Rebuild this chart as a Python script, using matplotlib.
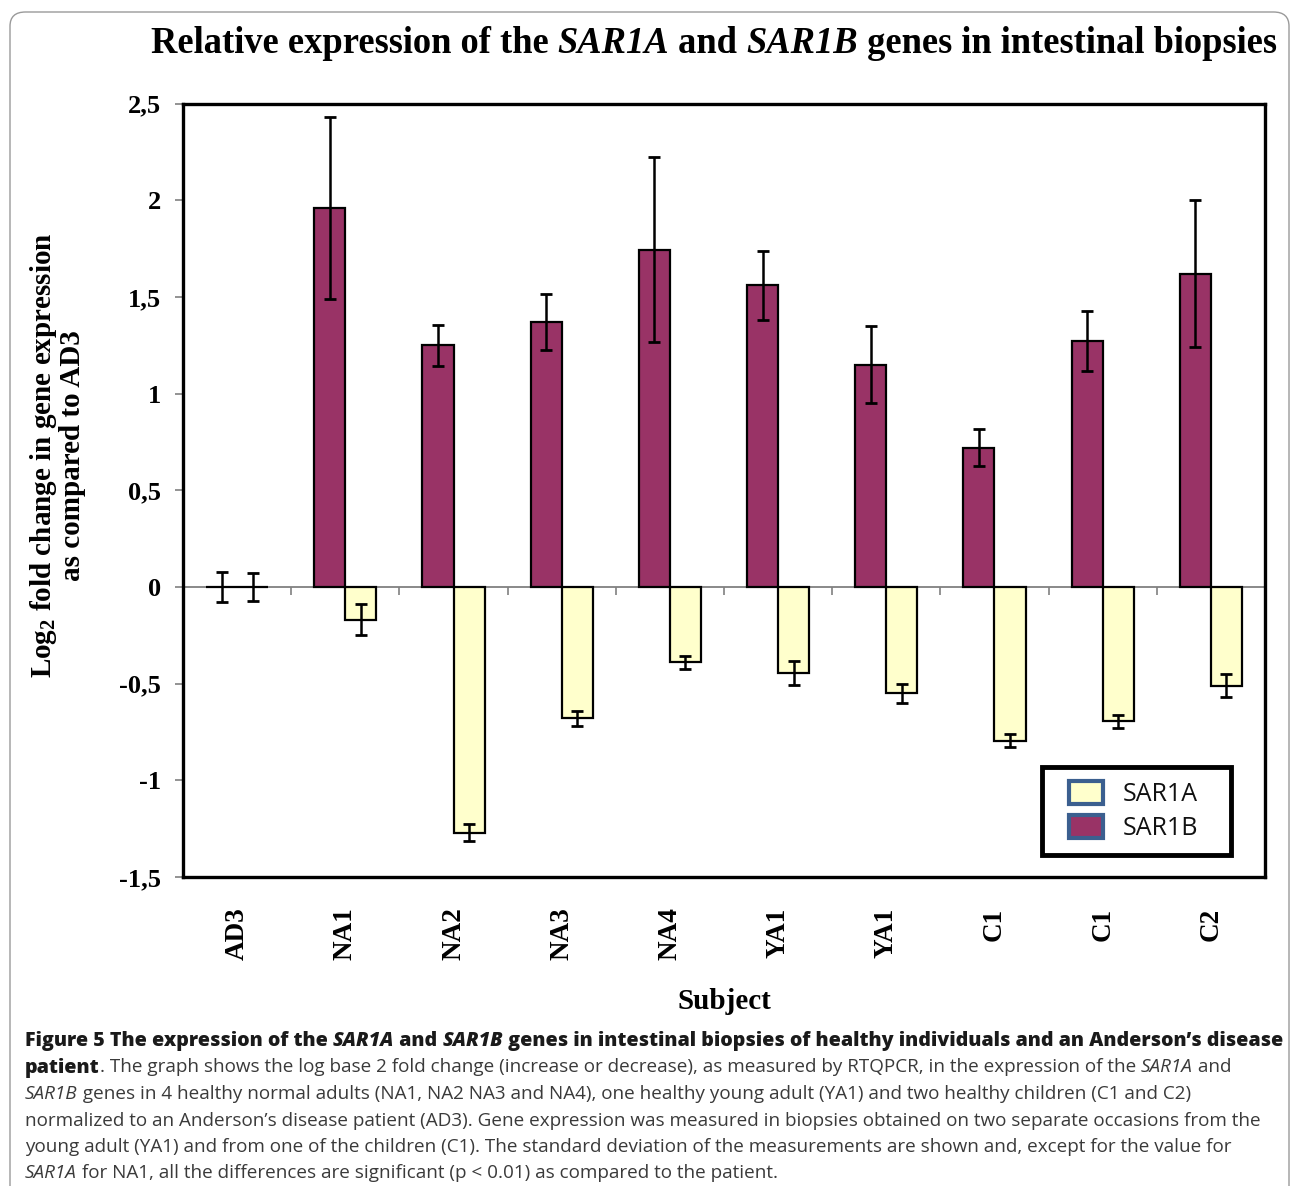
import numpy as np
import matplotlib
matplotlib.use("Agg")
import matplotlib.pyplot as plt
from matplotlib.patches import Patch, FancyBboxPatch, Rectangle

# data
subjects = ["AD3", "NA1", "NA2", "NA3", "NA4", "YA1", "YA1", "C1", "C1", "C2"]
sar1b = [0.0, 1.96, 1.25, 1.37, 1.745, 1.56, 1.15, 0.72, 1.27, 1.62]
sar1b_err = [0.08, 0.47, 0.105, 0.145, 0.48, 0.18, 0.20, 0.095, 0.155, 0.38]
sar1a = [0.0, -0.17, -1.27, -0.68, -0.39, -0.445, -0.55, -0.795, -0.695, -0.51]
sar1a_err = [0.07, 0.08, 0.045, 0.04, 0.035, 0.06, 0.05, 0.035, 0.035, 0.06]

yticks = [-1.5, -1, -0.5, 0, 0.5, 1, 1.5, 2, 2.5]
ytick_labels = ["-1,5", "-1", "-0,5", "0", "0,5", "1", "1,5", "2", "2,5"]

PURPLE = "#993366"
YELLOW = "#FFFFCC"
SERIF = "Liberation Serif"
SANS = "Open Sans"

plt.rcParams["mathtext.fontset"] = "custom"
plt.rcParams["mathtext.rm"] = "Liberation Serif:bold"
plt.rcParams["mathtext.bf"] = "Liberation Serif:bold"

fig = plt.figure(figsize=(12.9, 11.86), dpi=100)
ax = fig.add_axes([0.1419, 0.2605, 0.9806 - 0.1419, 0.9127 - 0.2605])

x = np.arange(len(subjects))
w = 0.287
ax.bar(x - w / 2, sar1b, w, color=PURPLE, edgecolor="black", linewidth=1.6, zorder=3)
ax.bar(x + w / 2, sar1a, w, color=YELLOW, edgecolor="black", linewidth=1.6, zorder=3)
ax.errorbar(x - w / 2, sar1b, yerr=sar1b_err, fmt="none", ecolor="black",
            elinewidth=1.8, capsize=4.5, capthick=2, zorder=4)
ax.errorbar(x + w / 2, sar1a, yerr=sar1a_err, fmt="none", ecolor="black",
            elinewidth=1.8, capsize=4.5, capthick=2, zorder=4)

ax.set_xlim(-0.5, len(subjects) - 0.5)
ax.set_ylim(-1.5, 2.5)

# zero line with group separators
ax.axhline(0, color="#808080", linewidth=1.3, zorder=2)
zero_axis = ax.secondary_xaxis(1.5 / 4.0)
zero_axis.set_xticks(np.arange(0.5, len(subjects) - 0.5, 1.0))
zero_axis.set_xticklabels([])
zero_axis.tick_params(axis="x", direction="out", length=6, width=1.2, color="#808080")
zero_axis.spines["bottom"].set_visible(False)
zero_axis.spines["top"].set_visible(False)

for s in ax.spines.values():
    s.set_linewidth(2.4)
    s.set_color("black")

ax.set_yticks(yticks)
ax.set_yticklabels(ytick_labels, fontfamily=SERIF, fontweight="bold", fontsize=19)
ax.tick_params(axis="y", direction="out", length=6, width=1.2, color="#808080", pad=10)
ax.set_xticks(x)
ax.set_xticklabels(subjects, rotation=90, fontfamily=SERIF, fontweight="bold", fontsize=19.5)
ax.tick_params(axis="x", length=0, pad=22)

ax.set_xlabel("Subject", fontfamily=SERIF, fontweight="bold", fontsize=21, labelpad=20)
ax.set_ylabel("Log$_\\mathbf{2}$ fold change in gene expression\nas compared to AD3",
              fontfamily=SERIF, fontweight="bold", fontsize=21, linespacing=1.0)
ax.yaxis.set_label_coords(-0.09, 0.545)

# legend: entries centred in a hand-drawn black box
box = Rectangle((0.7939, 0.0284), 0.9686 - 0.7939, 0.1422 - 0.0284, transform=ax.transAxes,
                facecolor="white", edgecolor="black", linewidth=3.5, zorder=5)
ax.add_patch(box)
handles = [
    Patch(facecolor=YELLOW, edgecolor="#3B5F8F", linewidth=3, label="SAR1A"),
    Patch(facecolor=PURPLE, edgecolor="#3B5F8F", linewidth=3, label="SAR1B"),
]
leg = ax.legend(handles=handles, loc="center",
                bbox_to_anchor=(0.879, 0.0853), frameon=False,
                prop={"family": SANS, "size": 18},
                handlelength=1.35, handleheight=1.05, handletextpad=0.8, labelspacing=0.3,
                borderpad=0, borderaxespad=0)
leg.set_zorder(6)
for t in leg.get_texts():
    t.set_color("#111111")

renderer = fig.canvas.get_renderer()
fig_w = fig.get_figwidth() * fig.dpi


def draw_segments(xpos, ypos, segments, size, family, color="black", ha="left"):
    items = []
    total = 0.0
    for text, weight, style, col, *rest in segments:
        fs = rest[0] if rest else size
        t = fig.text(0, ypos, text, fontsize=fs, fontfamily=family, fontweight=weight,
                     fontstyle=style, color=col or color, va="baseline", ha="left")
        width = t.get_window_extent(renderer).width / fig_w
        items.append((t, width))
        total += width
    start = xpos - total / 2 if ha == "center" else xpos
    for t, width in items:
        t.set_x(start)
        start += width


draw_segments(0.5535, 1 - 53 / 1186, [
    ("Relative expression of the ", "bold", "normal", None),
    ("SAR1A", "bold", "italic", None),
    (" and ", "bold", "normal", None),
    ("SAR1B", "bold", "italic", None),
    (" genes in intestinal biopsies", "bold", "normal", None),
], 26.3, SERIF, ha="center")

CAP = 13.6
CAPB = 14.1
dark = "#1a1a1a"
body = "#3a3a3a"
BOLD = 800
cap_x = 25 / 1290
lines = [
    [("Figure 5 The expression of the ", BOLD, "normal", dark, CAPB), ("SAR1A", BOLD, "italic", dark, CAPB),
     (" and ", BOLD, "normal", dark, CAPB), ("SAR1B", BOLD, "italic", dark, CAPB),
     (" genes in intestinal biopsies of healthy individuals and an Anderson\u2019s disease", BOLD, "normal", dark, CAPB)],
    [("patient", BOLD, "normal", dark, CAPB),
     (". The graph shows the log base 2 fold change (increase or decrease), as measured by RTQPCR, in the expression of the ", "normal", "normal", body),
     ("SAR1A", "normal", "italic", body), (" and", "normal", "normal", body)],
    [("SAR1B", "normal", "italic", body),
     (" genes in 4 healthy normal adults (NA1, NA2 NA3 and NA4), one healthy young adult (YA1) and two healthy children (C1 and C2)", "normal", "normal", body)],
    [("normalized to an Anderson\u2019s disease patient (AD3). Gene expression was measured in biopsies obtained on two separate occasions from the", "normal", "normal", body)],
    [("young adult (YA1) and from one of the children (C1). The standard deviation of the measurements are shown and, except for the value for", "normal", "normal", body)],
    [("SAR1A", "normal", "italic", body),
     (" for NA1, all the differences are significant (p < 0.01) as compared to the patient.", "normal", "normal", body)],
]
for i, segs in enumerate(lines):
    ybase = 1046 + i * 26.5
    draw_segments(cap_x, 1 - ybase / 1186, segs, CAP, SANS)

frame = FancyBboxPatch((10 / 1290, -0.05), 1279 / 1290, 1.05 - 12 / 1186,
                       boxstyle="round,pad=0,rounding_size=0.012", transform=fig.transFigure,
                       facecolor="none", edgecolor="#9a9a9a", linewidth=1.0)
fig.patches.append(frame)

fig.savefig("out.png", dpi=100)
